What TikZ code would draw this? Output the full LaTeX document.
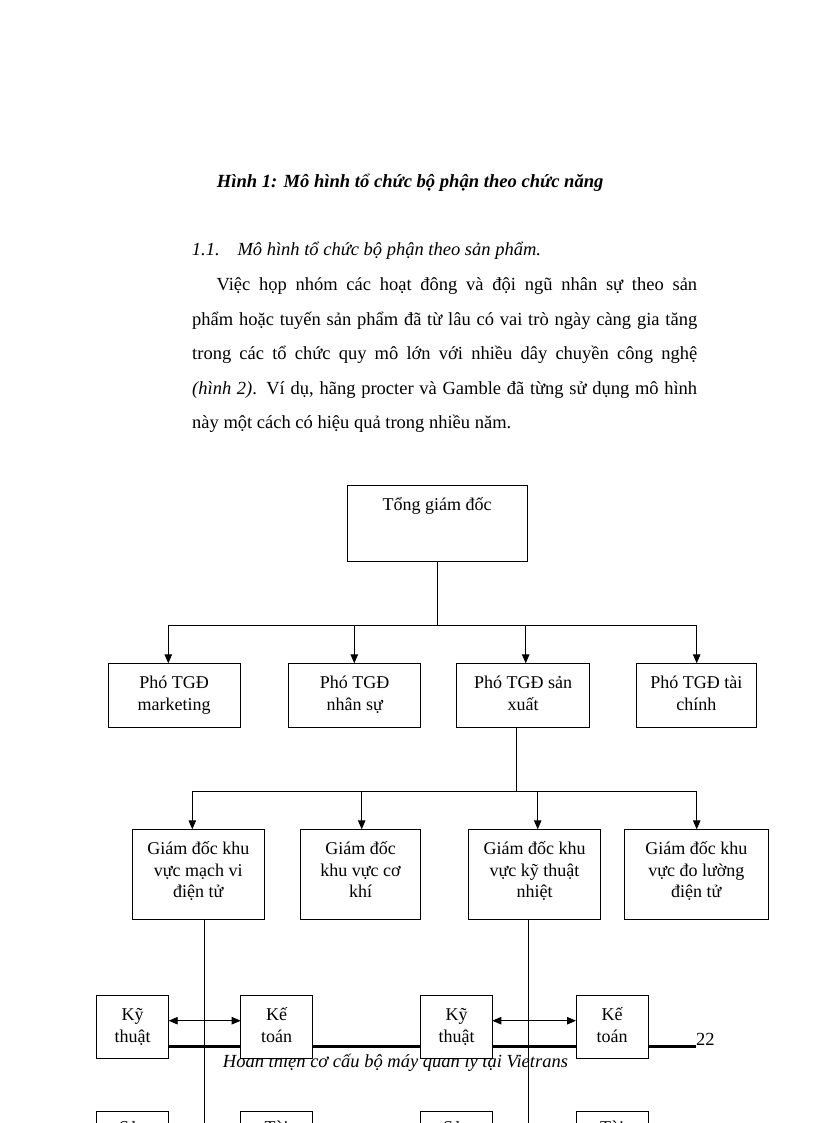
\documentclass[tikz,border=0pt]{standalone}
\usepackage{fontspec}
\setmainfont{Liberation Serif}
\usetikzlibrary{arrows.meta}
\tikzset{
  orgbox/.style={draw=black, line width=1pt, fill=white, inner sep=0pt, outer sep=0pt},
  boxtext/.style={font=\fontsize{18}{21.7}\selectfont, align=center, inner sep=0pt, anchor=north},
  conn/.style={line width=0.9pt},
  arr/.style={conn, -{Triangle[length=9pt,width=7.5pt]}},
  darr/.style={conn, {Triangle[length=9pt,width=7.5pt]}-{Triangle[length=9pt,width=7.5pt]}},
  bodytext/.style={font=\fontsize{18.5}{22}\selectfont, inner sep=0pt, anchor=base west},
}
\newcommand{\orgnode}[7][8pt]{%
  \node[orgbox, minimum width={#5pt-#3pt}, minimum height={#6pt-#4pt}] (#2) at ({(#3+#5)/2},{(#4+#6)/2}) {};
  \node[boxtext] (#2txt) at ([yshift=-#1]#2.north) {\rule{0pt}{17pt}#7};
}
\begin{document}
\begin{tikzpicture}[x=1pt,y=-1pt]
\clip (0,0) rectangle (816,1123);
\fill[white] (0,0) rectangle (816,1123);

% ---- text above the chart
\node[bodytext, font=\bfseries\itshape\fontsize{18.6}{22}\selectfont] (title) at (216.7,188)
  {Hình 1: Mô hình tổ chức bộ phận theo chức năng};
\node[bodytext, font=\itshape\fontsize{18.5}{22}\selectfont] (secnum) at (191.7,255) {1.1.};
\node[bodytext, font=\itshape\fontsize{18.5}{22}\selectfont] (sectitle) at (237.3,255)
  {Mô hình tổ chức bộ phận theo sản phẩm.};
\node[bodytext] (par1) at (216.3,290)
  {\makebox[480.7pt][s]{Việc họp nhóm các hoạt đông và đội ngũ nhân sự theo sản}};
\node[bodytext] (par2) at (192,325)
  {\makebox[505pt][s]{phẩm hoặc tuyến sản phẩm đã từ lâu có vai trò ngày càng gia tăng}};
\node[bodytext] (par3) at (192,359.5)
  {\makebox[505pt][s]{trong các tổ chức quy mô lớn với nhiều dây chuyền công nghệ}};
\node[bodytext] (par4) at (192,394)
  {\makebox[505pt][s]{\textit{(hình 2)}. Ví dụ, hãng procter và Gamble đã từng sử dụng mô hình}};
\node[bodytext] (par5) at (192,428.5)
  {này một cách có hiệu quả trong nhiều năm.};

% ---- page footer (behind the chart)
\draw[line width=3pt] (120,1046.7) -- (696,1046.7);
\node[bodytext] (pagenum) at (696,1045) {22};
\node[bodytext, font=\itshape\fontsize{18.5}{22}\selectfont] (footer) at (222.7,1067.5)
  {Hoàn thiện cơ cấu bộ máy quản lý tại Vietrans};

% ---- boxes
\orgnode{tgd}{347}{485}{527}{561.7}{Tổng giám đốc}

\orgnode{pm}{108.3}{663.3}{240}{727.7}{Phó TGĐ\\marketing}
\orgnode{pn}{288.7}{663.3}{420.7}{727.7}{Phó TGĐ\\nhân sự}
\orgnode{ps}{456.7}{663.3}{589.3}{727.7}{Phó TGĐ sản\\xuất}
\orgnode{pt}{636.7}{663.3}{756}{727.7}{Phó TGĐ tài\\chính}

\orgnode{ga}{132.3}{829.3}{264.3}{919.3}{Giám đốc khu\\vực mạch vi\\điện tử}
\orgnode{gb}{300.3}{829.3}{420.7}{919.3}{Giám đốc\\khu vực cơ\\khí}
\orgnode{gc}{468.3}{829.3}{600.7}{919.3}{Giám đốc khu\\vực kỹ thuật\\nhiệt}
\orgnode{gd}{624.3}{829.3}{768.3}{919.3}{Giám đốc khu\\vực đo lường\\điện tử}

\orgnode{ka}{96.7}{995.7}{168.7}{1058.3}{Kỹ\\thuật}
\orgnode{ta}{240.7}{995.7}{312.3}{1058.3}{Kế\\toán}
\orgnode{kb}{420.7}{995.7}{492.3}{1058.3}{Kỹ\\thuật}
\orgnode{tb}{576}{995.7}{648.3}{1058.3}{Kế\\toán}

\orgnode[5pt]{sa}{96.7}{1111}{168.7}{1174}{Sản\\xuất}
\orgnode[5pt]{fa}{240.7}{1111}{312.3}{1174}{Tài\\chính}
\orgnode[5pt]{sb}{420.7}{1111}{492.3}{1174}{Sản\\xuất}
\orgnode[5pt]{fb}{576}{1111}{648.3}{1174}{Tài\\chính}

% ---- level 1 -> level 2
\coordinate (bus1) at (437,625);
\coordinate (b1a) at (168.3,625);
\coordinate (b1b) at (354.3,625);
\coordinate (b1c) at (525.7,625);
\coordinate (b1d) at (696.7,625);
\draw[conn] (tgd.south) -- (bus1);
\draw[conn] (b1a) -- (b1d);
\draw[arr] (b1a) -- (b1a |- pm.north);
\draw[arr] (b1b) -- (b1b |- pn.north);
\draw[arr] (b1c) -- (b1c |- ps.north);
\draw[arr] (b1d) -- (b1d |- pt.north);

% ---- level 2 -> level 3
\coordinate (bus2) at (516.7,791.5);
\coordinate (b2a) at (192.3,791.5);
\coordinate (b2b) at (361.7,791.5);
\coordinate (b2c) at (537.7,791.5);
\coordinate (b2d) at (696.7,791.5);
\draw[conn] (bus2 |- ps.south) -- (bus2);
\draw[conn] (b2a) -- (b2d);
\draw[arr] (b2a) -- (b2a |- ga.north);
\draw[arr] (b2b) -- (b2b |- gb.north);
\draw[arr] (b2c) -- (b2c |- gc.north);
\draw[arr] (b2d) -- (b2d |- gd.north);

% ---- long verticals
\coordinate (va) at (204.5,1130);
\coordinate (vb) at (528.3,1130);
\draw[conn] (va |- ga.south) -- (va);
\draw[conn] (vb |- gc.south) -- (vb);

% ---- double arrows
\draw[darr] ([yshift=6.3pt]ka.east) -- ([yshift=6.3pt]ta.west);
\draw[darr] ([yshift=6.3pt]kb.east) -- ([yshift=6.3pt]tb.west);
\end{tikzpicture}
\end{document}
